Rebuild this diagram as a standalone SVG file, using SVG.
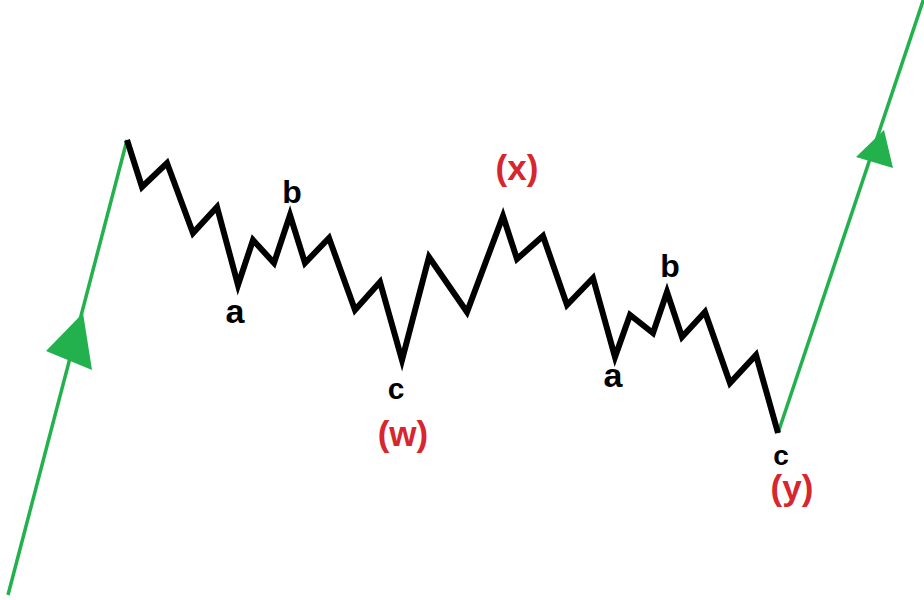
<svg xmlns="http://www.w3.org/2000/svg" width="924" height="600" viewBox="0 0 924 600">
<style>
.wave{fill:none;stroke:#000;stroke-width:6;stroke-linejoin:miter;stroke-miterlimit:10;stroke-linecap:butt}
.trend{fill:none;stroke:#22b14c;stroke-width:3.5}
.head{fill:#22b14c}
.lbl{font-family:"Liberation Sans",Arial,sans-serif;font-weight:bold;text-anchor:middle;fill:#000}
.red{font-family:"Liberation Sans",Arial,sans-serif;font-weight:bold;text-anchor:middle;fill:#d7262e;font-size:35px}
</style>
<rect width="924" height="600" fill="#fff"/>
<g id="connectors">
<line class="trend" x1="8" y1="595" x2="127" y2="140"/>
<line class="trend" x1="778" y1="433" x2="925" y2="-5"/>
<polygon class="head" points="83,313 46,351 92,370"/>
<polygon class="head" points="884,130 856,157 893,168"/>
<polyline class="wave" points="127,140 142,187 167,163 193,233 217,207 238,285 253,240 274,263 290,215 305,263 329,238 355,310 380,282 402,360 429,257 467,312 503,216 517,259 543,236 567,305 593,278 615,357 630,315 653,333 667,292 682,337 705,312 730,383 756,355 778,433"/>
</g>
<g id="label-a1"><text class="lbl" x="235" y="323" font-size="34">a</text></g>
<g id="label-b1"><text class="lbl" x="292" y="203" font-size="32">b</text></g>
<g id="label-c1"><text class="lbl" x="396" y="399" font-size="30">c</text></g>
<g id="label-w"><text class="red" x="403" y="446">(w)</text></g>
<g id="label-x"><text class="red" x="517" y="180">(x)</text></g>
<g id="label-a2"><text class="lbl" x="613" y="387" font-size="34">a</text></g>
<g id="label-b2"><text class="lbl" x="670" y="277" font-size="32">b</text></g>
<g id="label-c2"><text class="lbl" x="781" y="465" font-size="28">c</text></g>
<g id="label-y"><text class="red" x="792" y="500">(y)</text></g>
</svg>
